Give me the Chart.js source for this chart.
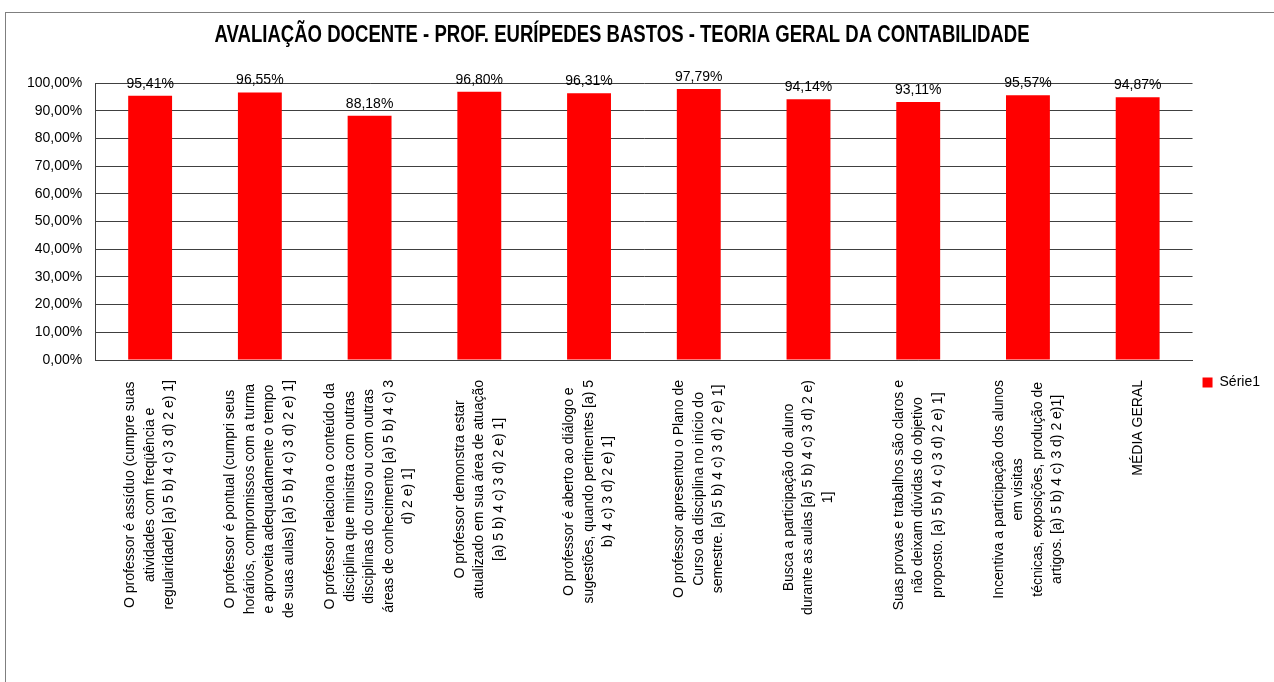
<!DOCTYPE html>
<html>
<head>
<meta charset="utf-8">
<title>Avaliação docente</title>
<script src="https://cdn.jsdelivr.net/npm/chart.js@4/dist/chart.umd.min.js"></script>
<style>
  html, body { margin: 0; padding: 0; background: #fff; }
  #wrap { width: 1274px; height: 682px; }
</style>
</head>
<body>
<div id="wrap"><canvas id="chart" width="1274" height="682"></canvas></div>
<script>
// data
const chartTitle = 'AVALIAÇÃO DOCENTE - PROF. EURÍPEDES BASTOS - TEORIA GERAL DA CONTABILIDADE';
const categories = [
  ['O professor é assíduo (cumpre suas', 'atividades com freqüência e', 'regularidade) [a) 5 b) 4 c) 3 d) 2 e) 1]'],
  ['O professor é pontual (cumpri seus', 'horários, compromissos com a turma', 'e aproveita adequadamente o tempo', 'de suas aulas) [a) 5 b) 4 c) 3 d) 2 e) 1]'],
  ['O professor relaciona o conteúdo da', 'disciplina que ministra com outras', 'disciplinas do curso ou com outras', 'áreas de conhecimento [a) 5 b) 4 c) 3', 'd) 2 e) 1]'],
  ['O professor demonstra estar', 'atualizado em sua área de atuação', '[a) 5 b) 4 c) 3 d) 2 e) 1]'],
  ['O professor é aberto ao diálogo e', 'sugestões, quando pertinentes [a) 5', 'b) 4 c) 3 d) 2 e) 1]'],
  ['O professor apresentou o Plano de', 'Curso da disciplina no início do', 'semestre. [a) 5 b) 4 c) 3 d) 2 e) 1]'],
  ['Busca a participação do aluno', 'durante as aulas [a) 5 b) 4 c) 3 d) 2 e)', '1]'],
  ['Suas provas e trabalhos são claros e', 'não deixam dúvidas do objetivo', 'proposto. [a) 5 b) 4 c) 3 d) 2 e) 1]'],
  ['Incentiva a participação dos alunos', 'em visitas', 'técnicas, exposições, produção de', 'artigos. [a) 5 b) 4 c) 3 d) 2 e)1]'],
  ['MÉDIA GERAL']
];
const serie1 = [95.41, 96.55, 88.18, 96.80, 96.31, 97.79, 94.14, 93.11, 95.57, 94.87];
const yTicks = [0, 10, 20, 30, 40, 50, 60, 70, 80, 90, 100];

const FONT = "'Liberation Sans', Arial, sans-serif";
const pct = v => v.toFixed(2).replace('.', ',') + '%';

// outer frame and the condensed bold title (Excel look)
const framePlugin = {
  id: 'frame',
  beforeDraw(chart) {
    const ctx = chart.ctx;
    ctx.save();
    ctx.strokeStyle = '#7f7f7f';
    ctx.lineWidth = 1;
    ctx.strokeRect(5.5, 12.5, 1300, 700);
    ctx.font = 'bold 23px ' + FONT;
    ctx.fillStyle = '#000';
    ctx.textAlign = 'center';
    ctx.textBaseline = 'middle';
    const w = ctx.measureText(chartTitle).width;
    const sx = 815 / w;
    ctx.translate(622, 36);
    ctx.scale(sx, 1);
    ctx.fillText(chartTitle, 0, 0);
    ctx.restore();
  }
};

// value labels above the bars
const valuePlugin = {
  id: 'values',
  afterDatasetsDraw(chart) {
    const ctx = chart.ctx;
    const meta = chart.getDatasetMeta(0);
    ctx.save();
    ctx.font = '14px ' + FONT;
    ctx.fillStyle = '#000';
    ctx.textAlign = 'center';
    ctx.textBaseline = 'bottom';
    meta.data.forEach((bar, i) => {
      ctx.fillText(pct(serie1[i]), bar.x, bar.y - 5);
    });
    ctx.restore();
  }
};

// rotated, centred multi-line category labels
const catLabelPlugin = {
  id: 'catLabels',
  afterDraw(chart) {
    const ctx = chart.ctx;
    const xs = chart.scales.x;
    const lineH = 19.5;
    ctx.save();
    ctx.font = '14px ' + FONT;
    ctx.fillStyle = '#000';
    ctx.textAlign = 'center';
    ctx.textBaseline = 'middle';
    categories.forEach((lines, i) => {
      const x = xs.getPixelForValue(i);
      const maxW = Math.max(...lines.map(l => ctx.measureText(l).width));
      const cy = xs.top + 20 + maxW / 2;
      ctx.save();
      ctx.translate(x, cy);
      ctx.rotate(-Math.PI / 2);
      lines.forEach((l, j) => {
        ctx.fillText(l, 0, (j - (lines.length - 1) / 2) * lineH);
      });
      ctx.restore();
    });
    ctx.restore();
  }
};

new Chart(document.getElementById('chart'), {
  type: 'bar',
  data: {
    labels: categories.map(c => c.join(' ')),
    datasets: [{
      label: 'Série1',
      data: serie1,
      backgroundColor: '#ff0000',
      borderWidth: 0,
      barPercentage: 0.4,
      categoryPercentage: 1
    }]
  },
  options: {
    responsive: false,
    animation: false,
    layout: { padding: { top: 83, left: 14, right: 4, bottom: 0 } },
    plugins: {
      title: { display: false },
      legend: {
        position: 'right',
        labels: {
          color: '#000',
          boxWidth: 10,
          boxHeight: 10,
          font: { family: FONT, size: 14 }
        }
      },
      tooltip: { enabled: false }
    },
    scales: {
      x: {
        grid: { display: false },
        border: { display: true, color: '#404040' },
        ticks: { display: false },
        afterFit(scale) { scale.height = 322; }
      },
      y: {
        min: 0,
        max: 100,
        afterBuildTicks(scale) { scale.ticks = yTicks.map(v => ({ value: v })); },
        grid: { color: '#404040', drawTicks: false },
        border: { display: true, color: '#404040' },
        ticks: {
          color: '#000',
          padding: 13,
          font: { family: FONT, size: 14 },
          callback: v => pct(v)
        }
      }
    }
  },
  plugins: [framePlugin, valuePlugin, catLabelPlugin]
});
</script>
</body>
</html>
